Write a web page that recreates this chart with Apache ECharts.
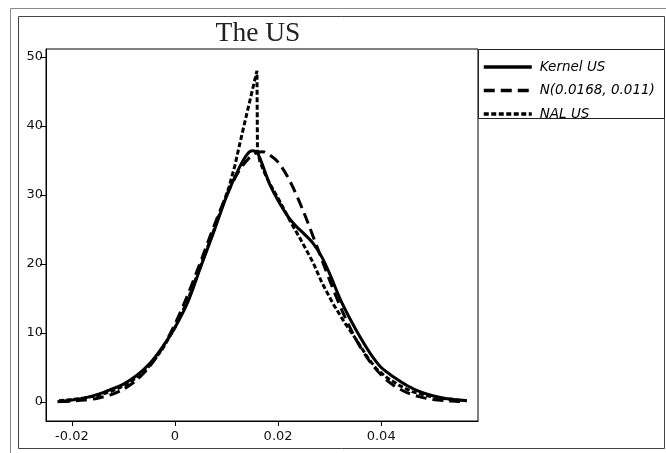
<!DOCTYPE html>
<html>
<head>
<meta charset="utf-8">
<script src="https://cdn.jsdelivr.net/npm/echarts@6/dist/echarts.min.js"></script>
<style>html,body{margin:0;padding:0;background:#fff}#c{width:666px;height:453px}</style>
</head>
<body>
<div id="c"></div>
<script>
const titleText = 'The US';
const seriesNames = ['Kernel US', 'N(0.0168, 0.011)', 'NAL US'];
const xTicks = [-0.02, 0, 0.02, 0.04];
const yTicks = [0, 10, 20, 30, 40, 50];

const kernelX = [-0.0228,-0.02,-0.0175,-0.015,-0.0125,-0.01,-0.0075,-0.005,-0.0025,0,0.0025,0.005,0.0075,0.01,0.0125,0.014,0.015,0.016,0.0175,0.0184,0.02,0.022,0.0236,0.025,0.0268,0.0285,0.03,0.032,0.034,0.036,0.038,0.04,0.0425,0.045,0.0475,0.05,0.0525,0.055,0.0566];
const kernelY = [0.05,0.3,0.6,1.1,1.8,2.6,3.8,5.5,7.9,10.8,14.5,19.6,24.6,29.8,34.0,35.9,36.4,36.1,33.3,31.5,29.2,26.8,25.4,24.4,23.0,21.0,18.6,15.0,12.0,9.3,6.9,5.0,3.6,2.4,1.5,0.9,0.5,0.3,0.2];

const normalX = [-0.0225,-0.02,-0.0175,-0.015,-0.0125,-0.01,-0.0075,-0.005,-0.0025,0,0.0025,0.005,0.0075,0.01,0.0125,0.015,0.0168,0.0175,0.02,0.0225,0.025,0.0275,0.03,0.0325,0.035,0.0375,0.04,0.0425,0.045,0.0475,0.05,0.0525,0.055,0.0565];
const normalY = [0.06,0.14,0.28,0.56,1.04,1.86,3.16,5.09,7.78,11.3,15.58,20.4,25.37,29.96,33.6,35.79,36.27,36.2,34.77,31.71,27.47,22.6,17.66,13.1,9.23,6.17,3.92,2.37,1.36,0.74,0.38,0.19,0.09,0.05];

const nalX = [-0.0225,-0.02,-0.0175,-0.015,-0.0125,-0.01,-0.0075,-0.005,-0.0025,0,0.0025,0.005,0.0075,0.009,0.0105,0.0116,0.0125,0.014,0.0159,0.016,0.0165,0.0175,0.0185,0.0204,0.0225,0.0242,0.0255,0.0268,0.0285,0.0307,0.033,0.0352,0.0375,0.0391,0.041,0.0435,0.046,0.049,0.052,0.055,0.0566];
const nalY = [0.2,0.35,0.6,0.95,1.5,2.3,3.5,5.2,7.6,10.8,14.8,19.8,24.8,28.0,31.2,34.2,37.2,42.0,48.0,36.4,34.8,33.0,31.5,29.0,26.0,23.8,22.0,20.2,17.3,14.2,11.4,9.0,6.3,4.8,3.6,2.4,1.5,0.9,0.5,0.3,0.2];

function pairs(xs, ys){ return xs.map((x,i)=>[x, ys[i]]); }

const chart = echarts.init(document.getElementById('c'), null, {renderer:'canvas'});
const labelFont = 'DejaVu Sans';
chart.setOption({
  animation: false,
  backgroundColor: '#fff',
  grid: {left: 46, top: 49, width: 432, height: 372, show: true, borderColor: '#000', borderWidth: 1, backgroundColor: 'transparent'},
  xAxis: {
    type: 'value', min: -0.02502, max: 0.05878,
    axisLine: {show: true, onZero: false, lineStyle: {color: '#000', width: 1}},
    axisTick: {show: true, length: 5, inside: false, customValues: xTicks, lineStyle: {color: '#000'}},
    axisLabel: {customValues: xTicks, margin: 9, color: '#111', fontFamily: labelFont, fontSize: 13,
      formatter: v => (Math.abs(v) < 1e-12 ? '0' : String(+v.toFixed(4)))},
    splitLine: {show: false}
  },
  yAxis: {
    type: 'value', min: -2.75, max: 51.16,
    axisLine: {show: true, onZero: false, lineStyle: {color: '#000', width: 1}},
    axisTick: {show: true, length: 6, customValues: yTicks, lineStyle: {color: '#000'}},
    axisLabel: {customValues: yTicks, margin: 3, color: '#111', fontFamily: labelFont, fontSize: 13},
    splitLine: {show: false}
  },
  legend: {
    orient: 'vertical', left: 477, top: 55, itemWidth: 48, itemHeight: 14, itemGap: 9.5,
    itemStyle: {color: 'transparent', borderWidth: 0, opacity: 0},
    lineStyle: {width: 3.5},
    textStyle: {fontFamily: labelFont, fontStyle: 'italic', fontSize: 13.5, color: '#000', padding: [0,0,0,3]},
    data: seriesNames
  },
  graphic: [
    {type: 'rect', silent: true, shape: {x: 10.5, y: 8.5, width: 700, height: 500}, style: {fill: 'none', stroke: '#888', lineWidth: 1}},
    {type: 'rect', silent: true, shape: {x: 18.5, y: 16.5, width: 646, height: 432}, style: {fill: 'none', stroke: '#444', lineWidth: 1}},
    {type: 'rect', silent: true, shape: {x: 478.5, y: 49.5, width: 186, height: 69}, style: {fill: 'none', stroke: '#222', lineWidth: 1}},
    {type: 'text', silent: true, style: {x: 258, y: 34, text: titleText, textAlign: 'center', textVerticalAlign: 'middle', fontFamily: 'Liberation Serif', fontSize: 27.5, fill: '#222', letterSpacing: 2.6}}
  ],
  series: [
    {name: seriesNames[0], type: 'line', data: pairs(kernelX, kernelY), smooth: 0.3, symbol: 'none', showSymbol: false,
      lineStyle: {color: '#000', width: 3, type: 'solid'}, itemStyle: {color: '#000'}, z: 3},
    {name: seriesNames[1], type: 'line', data: pairs(normalX, normalY), smooth: 0.3, symbol: 'none', showSymbol: false,
      lineStyle: {color: '#000', width: 3, type: [11, 6]}, itemStyle: {color: '#000'}, z: 2},
    {name: seriesNames[2], type: 'line', data: pairs(nalX, nalY), smooth: false, symbol: 'none', showSymbol: false,
      lineStyle: {color: '#000', width: 3, type: [5, 2.5]}, itemStyle: {color: '#000'}, z: 4}
  ]
});
</script>
</body>
</html>
